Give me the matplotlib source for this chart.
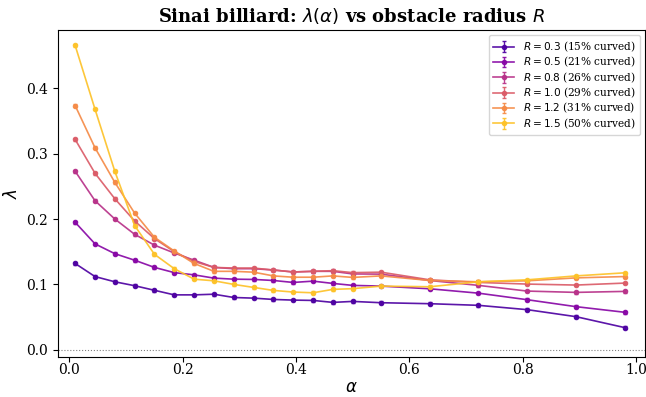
import matplotlib
matplotlib.use("Agg")
import matplotlib.pyplot as plt
import numpy as np

plt.rcParams['font.family'] = ['DejaVu Serif']

alpha = [0.01, 0.045, 0.08, 0.115, 0.15, 0.185, 0.22, 0.255, 0.29, 0.325, 0.36,
         0.395, 0.43, 0.465, 0.5, 0.55, 0.636, 0.722, 0.808, 0.894, 0.98]

radii = [0.3, 0.5, 0.8, 1.0, 1.2, 1.5]
curved_pct = [15, 21, 26, 29, 31, 50]

lam_R03 = [0.132, 0.112, 0.104, 0.098, 0.091, 0.084, 0.084, 0.085, 0.080, 0.079, 0.077,
           0.076, 0.0755, 0.0725, 0.074, 0.072, 0.0705, 0.068, 0.0614, 0.0507, 0.034]
lam_R05 = [0.195, 0.162, 0.147, 0.137, 0.126, 0.118, 0.1146, 0.1096, 0.108, 0.1076, 0.106,
           0.103, 0.105, 0.1015, 0.0985, 0.0974, 0.0933, 0.0866, 0.0766, 0.066, 0.0574]
lam_R08 = [0.273, 0.228, 0.200, 0.1766, 0.160, 0.148, 0.137, 0.126, 0.124, 0.124, 0.122,
           0.119, 0.120, 0.120, 0.116, 0.1157, 0.106, 0.0985, 0.0898, 0.0878, 0.0893]
lam_R10 = [0.3216, 0.270, 0.231, 0.197, 0.170, 0.150, 0.135, 0.126, 0.125, 0.125, 0.122,
           0.119, 0.120, 0.121, 0.118, 0.1187, 0.107, 0.103, 0.1005, 0.099, 0.102]
lam_R12 = [0.3734, 0.309, 0.256, 0.209, 0.172, 0.151, 0.132, 0.120, 0.120, 0.1187, 0.113,
           0.111, 0.111, 0.113, 0.1107, 0.113, 0.106, 0.104, 0.1055, 0.110, 0.112]
lam_R15 = [0.4653, 0.368, 0.273, 0.190, 0.146, 0.124, 0.108, 0.1055, 0.100, 0.0954, 0.0908,
           0.0883, 0.0872, 0.0924, 0.0935, 0.0974, 0.0964, 0.104, 0.107, 0.113, 0.1177]
series = [lam_R03, lam_R05, lam_R08, lam_R10, lam_R12, lam_R15]
err_size = [0.002, 0.002, 0.002, 0.002, 0.002, 0.002]

colors = plt.cm.plasma(np.linspace(0.13, 0.87, len(radii)))

fig = plt.figure(figsize=(6.46, 3.97), dpi=100)
ax = fig.add_axes([58/646, 40/397, 587/646, 327/397])

for R, pct, lam, e, c in zip(radii, curved_pct, series, err_size, colors):
    ax.errorbar(alpha, lam, yerr=e, color=c, marker='o', markersize=3,
                linewidth=1.2, capsize=1.5, elinewidth=1.0, alpha=0.92,
                label=f'$R = {R}$ ({pct}% curved)')

ax.axhline(0, color='gray', linestyle=':', linewidth=0.8)
ax.set_xlim(-0.0203, 1.016)
ax.set_ylim(-0.011, 0.489)
ax.set_xticks([0.0, 0.2, 0.4, 0.6, 0.8, 1.0])
ax.set_yticks([0.0, 0.1, 0.2, 0.3, 0.4])
ax.tick_params(axis='x', pad=1.0)
ax.set_xlabel(r'$\alpha$', fontsize=12, labelpad=1)
ax.set_ylabel(r'$\lambda$', fontsize=12)
ax.set_title(r'Sinai billiard: $\lambda(\alpha)$ vs obstacle radius $R$',
             fontsize=13, fontweight='bold')
ax.legend(loc='upper right', fontsize=7.6, labelspacing=0.08, borderpad=0.4,
          handlelength=2.0)

fig.savefig('out.png', dpi=100)
